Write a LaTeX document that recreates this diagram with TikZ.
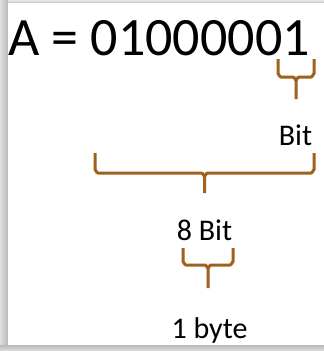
\documentclass[tikz,border=0pt]{standalone}
\usepackage{fontspec}
\setmainfont{Carlito}
\definecolor{brace}{HTML}{A0601E}
\newcommand{\hbrace}[5]{% x1 x2 top mid tip
  \pgfmathsetmacro\bc{(#1+#2)/2}%
  \pgfmathsetmacro\bl{#1+3}%
  \pgfmathsetmacro\br{#2-3}%
  \pgfmathsetmacro\bcl{\bc-3}%
  \pgfmathsetmacro\bcr{\bc+3}%
  \pgfmathsetmacro\bmu{#4-3}%
  \pgfmathsetmacro\bmd{#4+3}%
  \draw[bracelin] (#1,#3) -- (#1,\bmu) to[out=90,in=180] (\bl,#4)
    -- (\bcl,#4) to[out=0,in=-90] (\bc,\bmd) -- (\bc,#5);
  \draw[bracelin] (#2,#3) -- (#2,\bmu) to[out=90,in=0] (\br,#4)
    -- (\bcr,#4) to[out=180,in=-90] (\bc,\bmd);
}
\begin{document}
\begin{tikzpicture}[x=1pt,y=-1pt,
  bracelin/.style={draw=brace,line width=3pt,line join=round,line cap=butt},
  big/.style={font=\fontsize{54}{60}\selectfont,inner sep=0pt},
  small/.style={font=\fontsize{30}{34}\selectfont,inner sep=0pt}]
\useasboundingbox (0,0) rectangle (324,351);
% shadow frame
\fill[gray!30] (0,0) rectangle (324,351);
\shade[left color=gray!25,right color=gray!55] (0,0) rectangle (8,351);
\shade[top color=gray!55,bottom color=gray!25] (0,345) rectangle (324,351);
\shade[top color=gray!20,bottom color=gray!45] (8,0) rectangle (324,3);
\fill[white] (8,3) rectangle (324,345);
% texts
\node[big,anchor=base west] (code) at (8,55) {A = 01000001};
\node[small,anchor=base] (bit) at (295.5,145) {Bit};
\node[small,anchor=base] (eight) at (204.5,240) {8 Bit};
\node[small,anchor=base] (byte) at (209.5,338) {1 byte};
% braces
\hbrace{278}{314}{59}{77}{99}
\hbrace{95}{314}{153}{173}{193}
\hbrace{183}{233}{248}{265}{288}
\end{tikzpicture}
\end{document}
